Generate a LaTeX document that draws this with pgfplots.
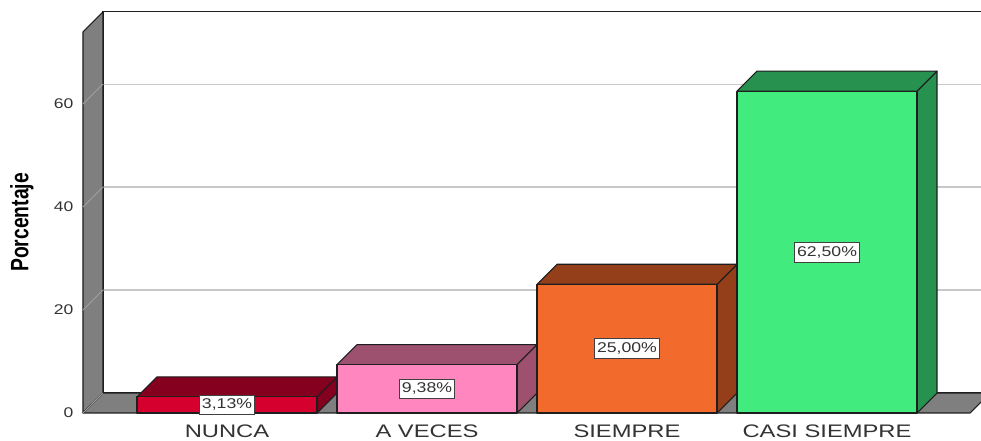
\documentclass[border=0pt]{standalone}
\usepackage{graphicx}
\usepackage{fontspec}
\setmainfont{Liberation Sans}
\usepackage{pgfplots}
\pgfplotsset{compat=1.18}
\definecolor{wallgray}{HTML}{7F7F7F}
\definecolor{gridgray}{HTML}{C8C8C8}
\definecolor{edge}{HTML}{1E1E1E}
\definecolor{txt}{HTML}{333333}
\definecolor{nuncaF}{HTML}{D6002F}
\definecolor{nuncaD}{HTML}{85001F}
\definecolor{vecesF}{HTML}{FF86BF}
\definecolor{vecesD}{HTML}{9E506F}
\definecolor{siempreF}{HTML}{F26A2C}
\definecolor{siempreD}{HTML}{953F1A}
\definecolor{casiF}{HTML}{42EB7E}
\definecolor{casiD}{HTML}{27914F}
\begin{document}
\begin{tikzpicture}
\useasboundingbox (0,0) rectangle (735.75pt,330.75pt);
\clip (0,0) rectangle (735.75pt,330.75pt);
\begin{axis}[
  at={(62.25pt,21pt)}, anchor=south west,
  scale only axis, width=665.25pt, height=285.8pt,
  xmin=-0.72, xmax=3.715, ymin=0, ymax=74,
  clip=false,
  /pgf/number format/assume math mode=true,
  axis line style={draw=none},
  major tick length=0pt,
  tick style={draw=none},
  xtick={0,1,2,3},
  xticklabels={\scalebox{1.31}[1]{NUNCA},\scalebox{1.31}[1]{A VECES},\scalebox{1.31}[1]{SIEMPRE},\scalebox{1.31}[1]{CASI SIEMPRE}},
  xticklabel style={font=\fontsize{13.6}{15}\selectfont, text=txt, anchor=north, inner sep=0pt, yshift=-9pt},
  ytick={0,20,40,60},
  yticklabel={\scalebox{1.25}[1]{\pgfmathprintnumber{\tick}}},
  yticklabel style={font=\fontsize{10.5}{12}\selectfont, text=txt, anchor=east, inner sep=0pt, xshift=-7pt},
  ylabel={\scalebox{1}[1.3]{\bfseries Porcentaje}},
  ylabel style={font=\fontsize{14.5}{16}\selectfont, at={([xshift=-45.75pt]axis description cs:0,0.5)}, anchor=center},
]
% back wall
\addplot[fill=white, draw=edge, line width=0.8pt] coordinates {(-0.62,3.88) (3.815,3.88) (3.815,77.88) (-0.62,77.88)} -- cycle;
% back wall grid lines
\addplot[gridgray, line width=0.8pt] coordinates {(-0.62,23.88) (3.815,23.88)};
\addplot[gridgray, line width=0.8pt] coordinates {(-0.62,43.88) (3.815,43.88)};
\addplot[gridgray, line width=0.8pt] coordinates {(-0.62,63.88) (3.815,63.88)};
% left wall
\addplot[fill=wallgray, draw=edge, line width=0.8pt, line join=round] coordinates {(-0.72,0) (-0.62,3.88) (-0.62,77.88) (-0.72,74)} -- cycle;
\addplot[gridgray!80!black, line width=0.6pt] coordinates {(-0.72,20) (-0.62,23.88)};
\addplot[gridgray!80!black, line width=0.6pt] coordinates {(-0.72,40) (-0.62,43.88)};
\addplot[gridgray!80!black, line width=0.6pt] coordinates {(-0.72,60) (-0.62,63.88)};
% floor
\addplot[fill=wallgray, draw=edge, line width=0.8pt, line join=round] coordinates {(-0.72,0) (3.715,0) (3.815,3.88) (-0.62,3.88)} -- cycle;
\addplot[gridgray!80!black, line width=0.6pt] coordinates {(-0.72,0) (-0.62,3.88)};
% NUNCA
\addplot[fill=nuncaD, draw=edge, line width=0.8pt, line join=round] coordinates {(0.45,0) (0.55,3.88) (0.55,7.01) (0.45,3.13)} -- cycle;
\addplot[fill=nuncaD, draw=edge, line width=0.8pt, line join=round] coordinates {(-0.45,3.13) (0.45,3.13) (0.55,7.01) (-0.35,7.01)} -- cycle;
\addplot[fill=nuncaF, draw=edge, line width=0.8pt, line join=round] coordinates {(-0.45,0) (0.45,0) (0.45,3.13) (-0.45,3.13)} -- cycle;
% A VECES
\addplot[fill=vecesD, draw=edge, line width=0.8pt, line join=round] coordinates {(1.45,0) (1.55,3.88) (1.55,13.26) (1.45,9.38)} -- cycle;
\addplot[fill=vecesD, draw=edge, line width=0.8pt, line join=round] coordinates {(0.55,9.38) (1.45,9.38) (1.55,13.26) (0.65,13.26)} -- cycle;
\addplot[fill=vecesF, draw=edge, line width=0.8pt, line join=round] coordinates {(0.55,0) (1.45,0) (1.45,9.38) (0.55,9.38)} -- cycle;
% SIEMPRE
\addplot[fill=siempreD, draw=edge, line width=0.8pt, line join=round] coordinates {(2.45,0) (2.55,3.88) (2.55,28.88) (2.45,25)} -- cycle;
\addplot[fill=siempreD, draw=edge, line width=0.8pt, line join=round] coordinates {(1.55,25) (2.45,25) (2.55,28.88) (1.65,28.88)} -- cycle;
\addplot[fill=siempreF, draw=edge, line width=0.8pt, line join=round] coordinates {(1.55,0) (2.45,0) (2.45,25) (1.55,25)} -- cycle;
% CASI SIEMPRE
\addplot[fill=casiD, draw=edge, line width=0.8pt, line join=round] coordinates {(3.45,0) (3.55,3.88) (3.55,66.38) (3.45,62.5)} -- cycle;
\addplot[fill=casiD, draw=edge, line width=0.8pt, line join=round] coordinates {(2.55,62.5) (3.45,62.5) (3.55,66.38) (2.65,66.38)} -- cycle;
\addplot[fill=casiF, draw=edge, line width=0.8pt, line join=round] coordinates {(2.55,0) (3.45,0) (3.45,62.5) (2.55,62.5)} -- cycle;
% value labels
\addplot[draw=none, mark=none, point meta=explicit symbolic,
  nodes near coords={\scalebox{1.25}[1]{\pgfplotspointmeta}},
  nodes near coords align={center},
  every node near coord/.style={anchor=center, fill=white, draw=black!75, line width=0.6pt, inner xsep=1.8pt, inner ysep=3pt, font=\fontsize{10.6}{12}\selectfont, text=txt}]
  coordinates {(0,1.565)[3,13\%] (1,4.69)[9,38\%] (2,12.5)[25,00\%] (3,31.25)[62,50\%]};
\end{axis}
\end{tikzpicture}
\end{document}
